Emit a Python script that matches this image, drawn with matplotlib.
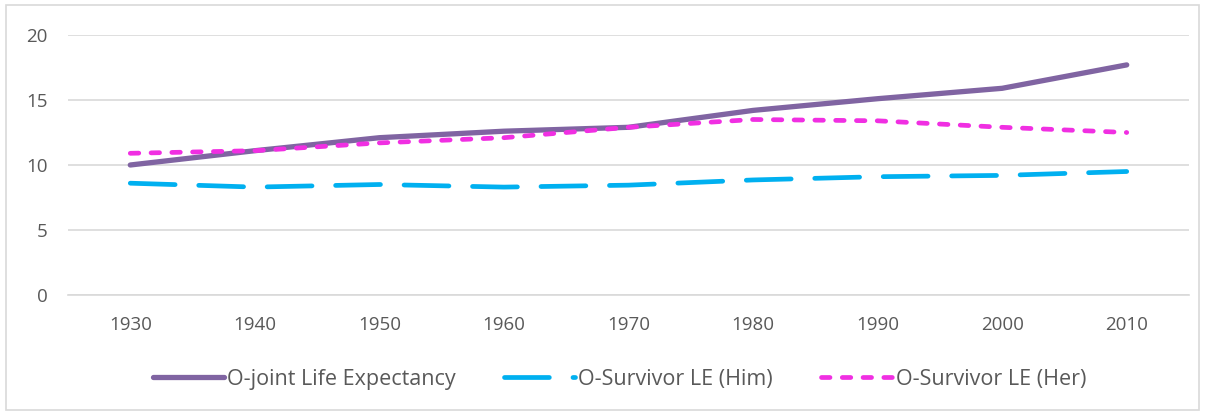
import matplotlib.pyplot as plt
from matplotlib.patches import Rectangle

years = ['1930', '1940', '1950', '1960', '1970', '1980', '1990', '2000', '2010']
joint_le = [10.0, 11.1, 12.1, 12.6, 12.9, 14.2, 15.1, 15.9, 17.7]
him_le = [8.6, 8.3, 8.5, 8.3, 8.45, 8.85, 9.1, 9.2, 9.5]
her_le = [10.9, 11.1, 11.7, 12.1, 12.9, 13.5, 13.4, 12.9, 12.5]

plt.rcParams['font.family'] = ['Open Sans', 'DejaVu Sans']
txt = '#595959'
grid = '#D9D9D9'

fig = plt.figure(figsize=(12.05, 4.13), dpi=100)
ax = fig.add_axes([68 / 1205, 1 - 295 / 413, (1189 - 68) / 1205, 260 / 413])

x = range(len(years))
ax.plot(x, joint_le, color='#8064A2', lw=3.8, solid_capstyle='round',
        label='O-joint Life Expectancy')
ax.plot(x, him_le, color='#00B0F0', lw=3.4, dash_capstyle='round',
        dashes=(9.5, 5), label='O-Survivor LE (Him)')
ax.plot(x, her_le, color='#F02FE2', lw=3.4, dash_capstyle='round',
        dashes=(1.8, 2.6), label='O-Survivor LE (Her)')

ax.set_xlim(-0.5, len(years) - 0.5)
ax.set_ylim(0, 20)
ax.set_yticks([0, 5, 10, 15, 20])
ax.set_xticks(list(x))
ax.set_xticklabels(years)
ax.yaxis.grid(True, color=grid, lw=1.2)
ax.set_axisbelow(True)
for s in ['top', 'right', 'left']:
    ax.spines[s].set_visible(False)
ax.spines['bottom'].set_color(grid)
ax.spines['bottom'].set_linewidth(1.2)
ax.tick_params(axis='both', length=0, labelsize=13.5, colors=txt)
ax.tick_params(axis='y', pad=14.5)
ax.tick_params(axis='x', pad=15)

fig.legend(loc='center', bbox_to_anchor=(0.514, 1 - 379 / 413), ncol=3,
           frameon=False, fontsize=15.5, labelcolor=txt, handlelength=3.3,
           handletextpad=0.15, columnspacing=2.25)

fig.patches.append(Rectangle((6 / 1205, 3 / 413), 1193 / 1205, 405 / 413,
                             transform=fig.transFigure, fill=False,
                             edgecolor=grid, lw=1.2))

fig.savefig('out.png', dpi=100)
